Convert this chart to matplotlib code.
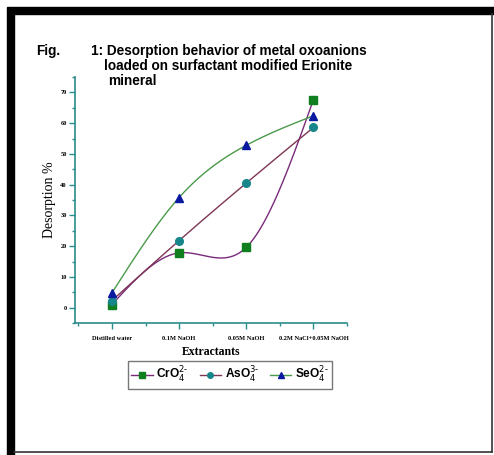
import numpy as np
import matplotlib
matplotlib.use("Agg")
import matplotlib.pyplot as plt
from matplotlib.patches import Rectangle
from matplotlib.lines import Line2D
from matplotlib.ticker import MultipleLocator

# data
extractants = ["Distilled water", "0.1M NaOH", "0.05M NaOH", "0.2M NaCl+0.05M NaOH"]
cro4 = [1.0, 17.8, 19.6, 67.6]
aso4 = [2.3, 21.8, 40.5, 58.6]
seo4 = [4.8, 35.8, 52.8, 62.4]

W, H = 494, 455


# natural cubic spline so the lines bend through the points like the original
def smooth(x, y, n=200):
    x = np.asarray(x, float)
    y = np.asarray(y, float)
    k = len(x)
    h = np.diff(x)
    A = np.zeros((k, k))
    b = np.zeros(k)
    A[0, 0] = A[-1, -1] = 1
    for i in range(1, k - 1):
        A[i, i - 1] = h[i - 1]
        A[i, i] = 2 * (h[i - 1] + h[i])
        A[i, i + 1] = h[i]
        b[i] = 3 * ((y[i + 1] - y[i]) / h[i] - (y[i] - y[i - 1]) / h[i - 1])
    c = np.linalg.solve(A, b)
    xs = np.linspace(x[0], x[-1], n)
    ys = np.empty_like(xs)
    for j, xv in enumerate(xs):
        i = min(np.searchsorted(x, xv, side="right") - 1, k - 2)
        d = xv - x[i]
        bb = (y[i + 1] - y[i]) / h[i] - h[i] * (2 * c[i] + c[i + 1]) / 3
        dd = (c[i + 1] - c[i]) / (3 * h[i])
        ys[j] = y[i] + bb * d + c[i] * d ** 2 + dd * d ** 3
    return xs, ys


def px(x, y):
    return x / W, 1 - y / H


fig = plt.figure(figsize=(W / 100, H / 100), dpi=100)
fig.patch.set_facecolor("white")

# black frame round the picture
fig.patches.append(Rectangle(px(7, 14), 487 / W, 7 / H, transform=fig.transFigure,
                             color="black", zorder=0))
fig.patches.append(Rectangle(px(7, 455), 7 / W, 441 / H, transform=fig.transFigure,
                             color="black", zorder=0))
fig.add_artist(Line2D([14 / W, 492 / W], [1 - 452 / H] * 2, color="#333333", lw=1.2))
fig.add_artist(Line2D([492 / W] * 2, [1 - 452 / H, 1 - 14 / H], color="#333333", lw=1.2))

# title
tfont = dict(family="Liberation Sans", weight="bold", fontsize=9.8, va="center")
fig.text(*px(36, 51), "Fig.", **tfont)
fig.text(*px(91, 51), "1: Desorption behavior of metal oxoanions", **tfont)
fig.text(*px(104, 66), "loaded on surfactant modified Erionite", **tfont)
fig.text(*px(108, 81), "mineral", **tfont)

ax = fig.add_axes([75 / W, 1 - 323 / H, 272 / W, 246 / H])
ax.set_facecolor("white")

x = np.arange(len(extractants))
series = [
    (cro4, "#7a2a7a", "#0f7f1f", "s", r"CrO$_4^{2\text{-}}$"),
    (aso4, "#7e3556", "#17868a", "o", r"AsO$_4^{3\text{-}}$"),
    (seo4, "#4a9a4a", "#0a1aa0", "^", r"SeO$_4^{2\text{-}}$"),
]
handles = []
for vals, lc, mc, mk, lab in series:
    xs, ys = smooth(x, vals)
    ax.plot(xs, ys, color=lc, lw=1.0, zorder=2)
    ax.plot(x, vals, ls="none", marker=mk, ms=5.5, color=mc, zorder=3)
    handles.append(Line2D([], [], color=lc, lw=1.0, marker=mk, ms=4, mfc=mc, mec=mc,
                          label=lab))

ax.set_xlim(-0.55, 3.5)
ax.set_ylim(-5, 75)
ax.set_xticks(x)
ax.set_xticklabels(extractants, family="Liberation Serif", weight="bold", fontsize=4.6)
ax.xaxis.set_minor_locator(MultipleLocator(0.5))
ax.yaxis.set_major_locator(MultipleLocator(10))
ax.yaxis.set_minor_locator(MultipleLocator(5))
for lbl in ax.get_yticklabels():
    lbl.set_family("Liberation Serif")
    lbl.set_weight("bold")
    lbl.set_fontsize(4.6)

axis_color = "#2a8c8c"
for s in ["top", "right"]:
    ax.spines[s].set_visible(False)
for s in ["left", "bottom"]:
    ax.spines[s].set_color(axis_color)
    ax.spines[s].set_linewidth(1.2)
ax.tick_params(which="both", direction="out", color=axis_color, width=1.0)
ax.tick_params(which="major", length=4, pad=2)
ax.tick_params(axis="x", which="major", pad=5)
ax.tick_params(which="minor", length=2.5)

ax.set_xlabel("Extractants", family="Liberation Serif", weight="bold", fontsize=8.5,
              labelpad=4)
ax.set_ylabel("Desorption %", family="Liberation Serif", fontsize=10, labelpad=3)

leg = fig.legend(handles=handles, loc="center", bbox_to_anchor=px(230, 375), ncol=3,
                 frameon=True, fancybox=False, handlelength=1.8, handletextpad=0.3,
                 columnspacing=0.9, borderpad=0.3,
                 prop=dict(family="Liberation Sans", weight="bold", size=8.6))
leg.get_frame().set_edgecolor("#555555")
leg.get_frame().set_linewidth(1.0)

fig.savefig("out.png", dpi=100)
